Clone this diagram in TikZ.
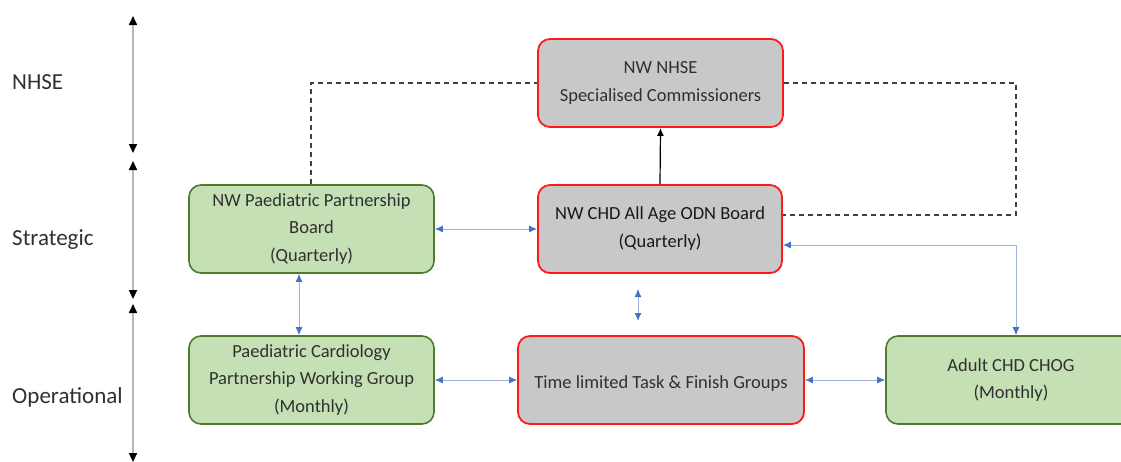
\documentclass[tikz,border=0pt]{standalone}
\usepackage{fontspec}
\setmainfont{Carlito}
\usetikzlibrary{arrows.meta}
\definecolor{boxgray}{HTML}{C8C8C8}
\definecolor{boxred}{HTML}{FF1A1A}
\definecolor{boxgreen}{HTML}{C5E0B4}
\definecolor{boxgreenline}{HTML}{4F7A30}
\definecolor{txtgray}{HTML}{303030}
\definecolor{linkblue}{HTML}{4472C4}
\definecolor{linkblueline}{HTML}{9DB3DF}
\definecolor{axisgray}{HTML}{B8B8B8}
\tikzset{
  redbox/.style={draw=boxred, line width=1.8pt, fill=boxgray, rounded corners=12pt,
    minimum height=88pt, align=center, text=txtgray, font=\fontsize{18.5}{28}\selectfont, inner sep=0pt,
    execute at begin node={\rule{0pt}{19pt}}},
  greenbox/.style={draw=boxgreenline, line width=1.6pt, fill=boxgreen, rounded corners=12pt,
    minimum height=88pt, minimum width=245pt, align=center, text=txtgray, font=\fontsize{18.5}{27.5}\selectfont, inner sep=0pt,
    execute at begin node={\rule{0pt}{19pt}}},
  sidelabel/.style={anchor=west, text=txtgray, font=\fontsize{23}{26}\selectfont, inner sep=0pt},
  bluelink/.style={draw=linkblueline, line width=1pt, {Latex[length=8pt,width=7pt,color=linkblue]}-{Latex[length=8pt,width=7pt,color=linkblue]}},
  dashlink/.style={draw=black!75, line width=1.3pt, dash pattern=on 5pt off 4pt},
  axisline/.style={draw=axisgray, line width=1.6pt, {Triangle[length=9pt,width=8pt,color=black]}-{Triangle[length=9pt,width=8pt,color=black]}},
}
\begin{document}
\begin{tikzpicture}[x=1pt,y=-1pt]
\useasboundingbox (0,0) rectangle (1121,461);
\clip (0,0) rectangle (1121,461);

% left axis
\coordinate (a1t) at (133,16);
\coordinate (a1b) at (133,153);
\coordinate (a2t) at (133,161);
\coordinate (a2b) at (133,299);
\coordinate (a3t) at (133,304);
\coordinate (a3b) at (133,462);
\draw[axisline] (a1t) -- (a1b);
\draw[axisline] (a2t) -- (a2b);
\draw[axisline] (a3t) -- (a3b);

\node[sidelabel] (lnhse) at (12,82) {NHSE};
\node[sidelabel] (lstrat) at (12,240) {Strategic};
\node[sidelabel] (loper) at (12,397) {Operational};

% boxes
\node[redbox, minimum width=245pt] (nhse) at (660.5,83) {NW NHSE\\Specialised Commissioners};
\node[redbox, minimum width=244pt, text=black!90, execute at begin node={\rule{0pt}{23pt}}] (odn) at (660,229) {NW CHD All Age ODN Board\\(Quarterly)};
\node[greenbox] (ppb) at (311.5,229) {NW Paediatric Partnership\\Board\\(Quarterly)};
\node[greenbox] (pcw) at (311.5,380) {Paediatric Cardiology\\Partnership Working Group\\(Monthly)};
\node[redbox, minimum width=286pt] (tlg) at (661,380) {Time limited Task \& Finish Groups};
\node[greenbox, minimum width=250pt] (chog) at (1011,380) {Adult CHD CHOG\\(Monthly)};

% dashed links
\draw[dashlink] (ppb.north -| 311,0) |- (nhse.west);
\coordinate (dr) at (1016,83);
\draw[dashlink] (nhse.east) -- (dr) |- (odn.east |- 0,215);

% black arrow
\draw[line width=1.2pt, -{Latex[length=8pt,width=7pt]}] (odn.north) -- (nhse.south);

% blue links
\draw[bluelink] (ppb.east) -- (odn.west);
\draw[bluelink] (ppb.south -| 299,0) -- (pcw.north -| 299,0);
\coordinate (m1) at (638,289);
\coordinate (m2) at (638,321);
\draw[bluelink] (m1) -- (m2);
\draw[bluelink] (pcw.east) -- (tlg.west);
\draw[bluelink] (tlg.east) -- (chog.west);
\coordinate (cr) at (1016,245);
\draw[bluelink] (odn.east |- 0,245) -- (cr) -- (chog.north -| 1016,0);
\end{tikzpicture}
\end{document}
